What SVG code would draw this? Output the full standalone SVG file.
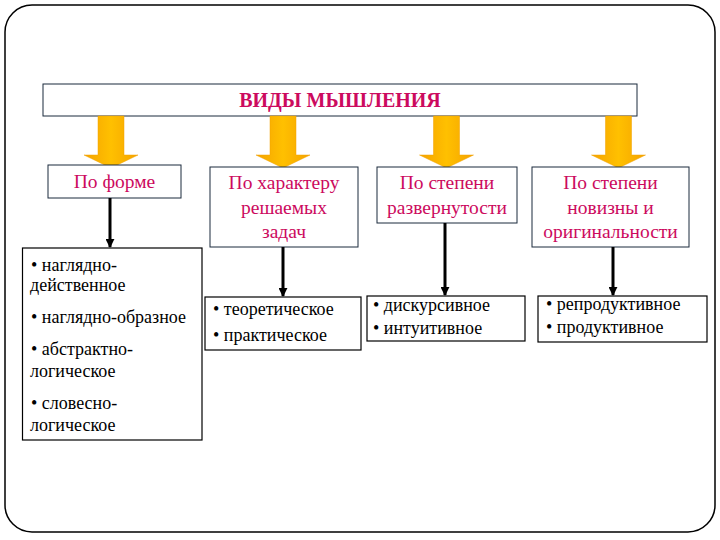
<svg xmlns="http://www.w3.org/2000/svg" xmlns:xlink="http://www.w3.org/1999/xlink" width="720" height="540" viewBox="0 0 720 540">
<defs>
<linearGradient id="og" x1="0" y1="0" x2="1" y2="0">
<stop offset="0" stop-color="#F5A300"/>
<stop offset="0.5" stop-color="#FFC000"/>
<stop offset="1" stop-color="#F5A300"/>
</linearGradient>
<path id="bigArrow" d="M-13,0 H13 V39 H27 L0,52 L-27,39 H-13 Z" fill="url(#og)" stroke="#F0A000" stroke-width="0.5"/>
<marker id="ah" viewBox="0 0 10 10" refX="9" refY="5" markerWidth="3" markerHeight="3" orient="auto" markerUnits="strokeWidth">
<path d="M0,0 L10,5 L0,10 Z" fill="#000"/>
</marker>
<style>
.frame{fill:#fff;stroke:#000;stroke-width:1.5}
.cat{fill:#fff;stroke:#1b2a3c;stroke-width:1}
.list{fill:#fff;stroke:#000;stroke-width:1.2}
.title{font-size:20px;font-weight:bold;fill:#CC0A5E}
.ct{font-size:19.5px;fill:#CC0A5E;text-anchor:middle}
.lt{font-size:18px;fill:#000}
.conn{stroke:#000;stroke-width:3;fill:none;marker-end:url(#ah)}
</style>
</defs>
<rect class="frame" x="5" y="5" width="710" height="527" rx="27" ry="27"/>

<g id="title">
<rect class="cat" x="43" y="84" width="594" height="32" stroke-width="1.3"/>
<text class="title" font-family="Liberation Serif, serif" x="340" y="107" text-anchor="middle">ВИДЫ МЫШЛЕНИЯ</text>
</g>

<g id="orange-arrows">
<use xlink:href="#bigArrow" transform="translate(111,116)"/>
<use xlink:href="#bigArrow" transform="translate(283,116)"/>
<use xlink:href="#bigArrow" transform="translate(446.5,116)"/>
<use xlink:href="#bigArrow" transform="translate(618.5,116)"/>
</g>

<g id="cat1">
<rect class="cat" x="48" y="165" width="133" height="33"/>
<text class="ct" font-family="Liberation Serif, serif" x="114.5" y="188">По форме</text>
</g>
<g id="cat2">
<rect class="cat" x="210" y="167" width="148" height="80"/>
<text class="ct" font-family="Liberation Serif, serif" x="284" y="189">По характеру</text>
<text class="ct" font-family="Liberation Serif, serif" x="284" y="214">решаемых</text>
<text class="ct" font-family="Liberation Serif, serif" x="284" y="238">задач</text>
</g>
<g id="cat3">
<rect class="cat" x="377" y="167" width="140" height="56"/>
<text class="ct" font-family="Liberation Serif, serif" x="447" y="189">По степени</text>
<text class="ct" font-family="Liberation Serif, serif" x="447" y="214">развернутости</text>
</g>
<g id="cat4">
<rect class="cat" x="532" y="167" width="157" height="80"/>
<text class="ct" font-family="Liberation Serif, serif" x="610.5" y="189">По степени</text>
<text class="ct" font-family="Liberation Serif, serif" x="610.5" y="214">новизны и</text>
<text class="ct" font-family="Liberation Serif, serif" x="610.5" y="238">оригинальности</text>
</g>

<g id="connectors">
<line class="conn" x1="110" y1="198" x2="110" y2="247"/>
<line class="conn" x1="283" y1="247" x2="283" y2="296"/>
<line class="conn" x1="445" y1="223" x2="445" y2="295"/>
<line class="conn" x1="613" y1="247" x2="613" y2="295"/>
</g>

<g id="list1">
<rect class="list" x="22.5" y="248" width="179.5" height="192"/>
<text class="lt" font-family="Liberation Serif, serif" x="31" y="271">• наглядно-</text>
<text class="lt" font-family="Liberation Serif, serif" x="30" y="291">действенное</text>
<text class="lt" font-family="Liberation Serif, serif" x="31" y="323">• наглядно-образное</text>
<text class="lt" font-family="Liberation Serif, serif" x="31" y="355">• абстрактно-</text>
<text class="lt" font-family="Liberation Serif, serif" x="30" y="377">логическое</text>
<text class="lt" font-family="Liberation Serif, serif" x="31" y="409">• словесно-</text>
<text class="lt" font-family="Liberation Serif, serif" x="30" y="431">логическое</text>
</g>
<g id="list2">
<rect class="list" x="205" y="297" width="156" height="53"/>
<text class="lt" font-family="Liberation Serif, serif" x="213" y="315">• теоретическое</text>
<text class="lt" font-family="Liberation Serif, serif" x="213" y="341">• практическое</text>
</g>
<g id="list3">
<rect class="list" x="367" y="296" width="158" height="45"/>
<text class="lt" font-family="Liberation Serif, serif" x="373" y="311">• дискурсивное</text>
<text class="lt" font-family="Liberation Serif, serif" x="373" y="334">• интуитивное</text>
</g>
<g id="list4">
<rect class="list" x="538" y="296" width="169" height="46"/>
<text class="lt" font-family="Liberation Serif, serif" x="546" y="310">• репродуктивное</text>
<text class="lt" font-family="Liberation Serif, serif" x="546" y="333">• продуктивное</text>
</g>
</svg>
